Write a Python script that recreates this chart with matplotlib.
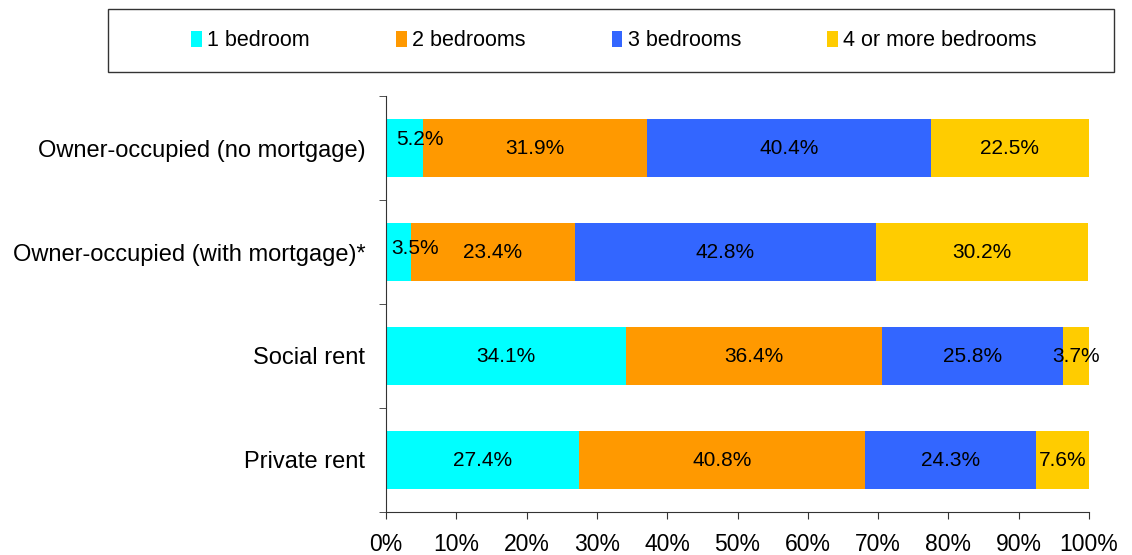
import matplotlib
matplotlib.use("Agg")
import matplotlib.pyplot as plt
from matplotlib.patches import Rectangle
from matplotlib.ticker import MultipleLocator, FixedLocator, PercentFormatter
import numpy as np

plt.rcParams['font.family'] = ['Liberation Sans', 'DejaVu Sans']

# data
tenures = ["Owner-occupied (no mortgage)", "Owner-occupied (with mortgage)*",
           "Social rent", "Private rent"]
series_names = ["1 bedroom", "2 bedrooms", "3 bedrooms", "4 or more bedrooms"]
one_bed = [5.2, 3.5, 34.1, 27.4]
two_bed = [31.9, 23.4, 36.4, 40.8]
three_bed = [40.4, 42.8, 25.8, 24.3]
four_plus = [22.5, 30.2, 3.7, 7.6]
colors = ["#00FFFF", "#FF9900", "#3366FF", "#FFCC00"]

fig = plt.figure(figsize=(11.32, 5.55), dpi=100)
ax = fig.add_axes([386/1132, 1-512/555, (1089-386)/1132, 416/555])

ypos = np.arange(len(tenures))
left = np.zeros(len(tenures))
for name, vals, c in zip(series_names, [one_bed, two_bed, three_bed, four_plus], colors):
    vals = np.array(vals)
    ax.barh(ypos, vals, left=left, height=0.56, color=c, label=name)
    for i, v in enumerate(vals):
        xc = left[i] + v/2
        ha = 'center'
        yo = 0
        # the two narrow 1-bedroom labels sit off-centre in the original
        if name == "1 bedroom" and v < 6:
            xc = left[i] + (1.4 if v > 4 else 0.7)
            ha = 'left'
            yo = -0.08 if v > 4 else -0.03
        ax.text(xc, ypos[i] + yo, f"{v:.1f}%", ha=ha, va='center', fontsize=15)
    left += vals

ax.set_xlim(0, 100)
ax.set_ylim(len(tenures) - 0.5, -0.5)
ax.xaxis.set_major_locator(MultipleLocator(10))
ax.xaxis.set_major_formatter(PercentFormatter(decimals=0))
ax.set_yticks(ypos)
ax.set_yticklabels(tenures)
ax.yaxis.set_minor_locator(FixedLocator(np.arange(-0.5, len(tenures), 1)))
ax.tick_params(axis='y', which='major', length=0, pad=15, labelsize=17)
ax.tick_params(axis='y', which='minor', length=5, color='#333333')
ax.tick_params(axis='x', length=5, labelsize=16.5, color='#333333', pad=10)
for s in ['top', 'right']:
    ax.spines[s].set_visible(False)
for s in ['left', 'bottom']:
    ax.spines[s].set_color('#333333')

# legend box
fig.patches.append(Rectangle((108/1132, 1-72/555), (1114-108)/1132, 63/555,
                             transform=fig.transFigure, fill=False,
                             edgecolor='#333333', linewidth=1))
fig.legend(loc='center', bbox_to_anchor=(614/1132, 1-41/555), ncol=4,
           frameon=False, fontsize=15.5, handlelength=0.5, handleheight=0.8,
           handletextpad=0.25, columnspacing=4.0)

fig.savefig("out.png", dpi=100)
